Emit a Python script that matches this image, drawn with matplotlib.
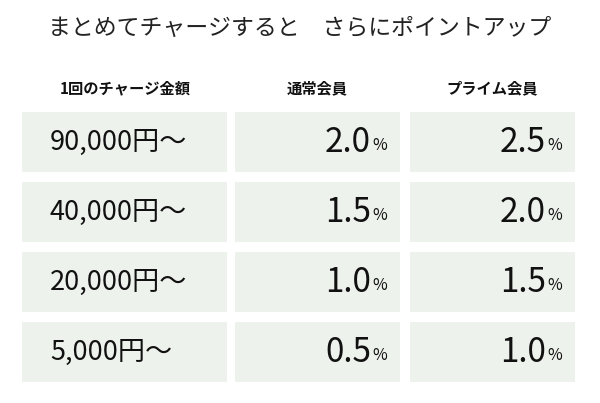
import matplotlib
matplotlib.use("Agg")
import matplotlib.pyplot as plt
from matplotlib.patches import Rectangle

plt.rcParams['font.family'] = ['Noto Sans CJK JP', 'DejaVu Sans']

title = "まとめてチャージすると　さらにポイントアップ"
headers = ["1回のチャージ金額", "通常会員", "プライム会員"]
amounts = ["90,000円～", "40,000円～", "20,000円～", "5,000円～"]
regular = [2.0, 1.5, 1.0, 0.5]
prime = [2.5, 2.0, 1.5, 1.0]

fig = plt.figure(figsize=(6, 4.03), dpi=100)
ax = fig.add_axes([0, 0, 1, 1])
ax.set_xlim(0, 600); ax.set_ylim(403, 0); ax.axis('off')

ax.text(300, 28, title, ha='center', va='center', fontsize=16.5, color='#222')
cols = [(22, 227), (235, 400), (410, 575)]
hx = [125, 317, 492]
for h, x in zip(headers, hx):
    ax.text(x, 88, h, ha='center', va='center', fontsize=11, fontweight='bold', color='#111')

bg = '#eef2ec'
top0, rh, gap = 112, 60, 10
for i in range(len(amounts)):
    y0 = top0 + i * (rh + gap)
    yc = y0 + rh / 2
    for (a, b) in cols:
        ax.add_patch(Rectangle((a, y0), b - a, rh, facecolor=bg, edgecolor='none'))
    ax.text(50, yc, amounts[i], ha='left', va='center', fontsize=19.5, color='#111')
    for v, (a, b) in zip([regular[i], prime[i]], cols[1:]):
        ax.text(b - 29, yc, f"{v:.1f}", ha='right', va='center', fontsize=24, color='#111')
        ax.text(b - 28, yc + 4, "%", ha='left', va='center', fontsize=11.5, color='#111')

fig.savefig("out.png", dpi=100, facecolor='white')
